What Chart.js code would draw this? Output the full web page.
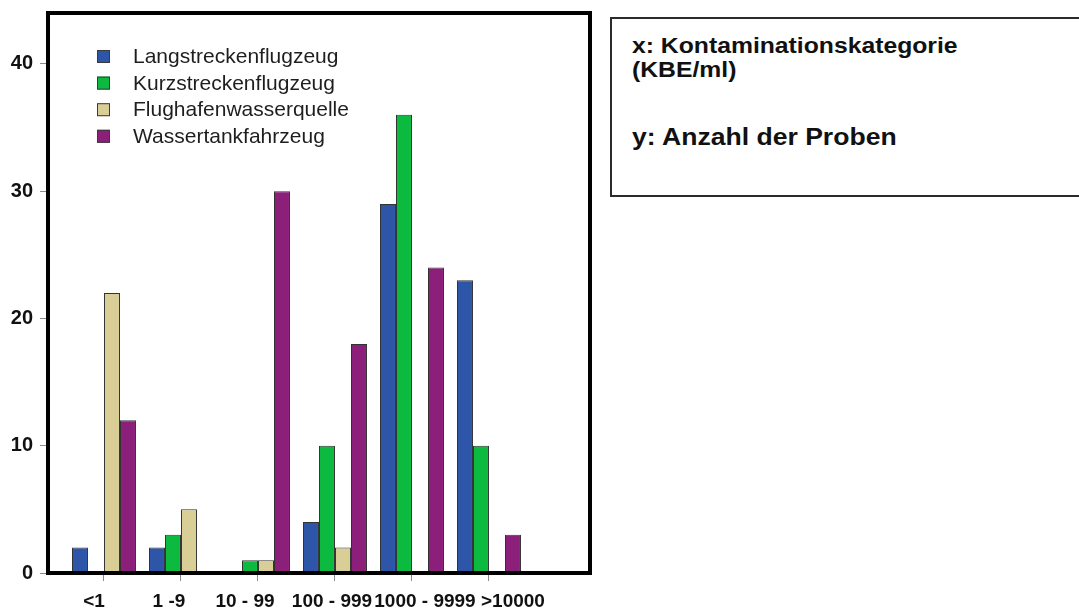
<!DOCTYPE html>
<html lang="de">
<head>
<meta charset="utf-8">
<title>Kontamination nach Probenquelle</title>
<script src="https://cdn.jsdelivr.net/npm/chart.js@4.4.1/dist/chart.umd.min.js"></script>
<style>
  html, body { margin: 0; padding: 0; background: #fff; }
  body { width: 1079px; height: 610px; position: relative; overflow: hidden;
         font-family: "Liberation Sans", Arial, sans-serif; }
  #chartBox { position: absolute; left: 0; top: 0; width: 600px; height: 610px; }
  #axisNote { position: absolute; left: 610px; top: 17px; width: 520px; height: 180px;
              border: 2px solid #2b2b2b; box-sizing: border-box; background: #fff; }
  #axisNote p { position: absolute; left: 20px; margin: 0; font-weight: bold; color: #111;
                white-space: nowrap; transform-origin: 0 0; }
  #axisNote .xnote { top: 16px; font-size: 21.5px; line-height: 23.5px; transform: scaleX(1.15); }
  #axisNote .ynote { top: 105px; font-size: 23.3px; line-height: 26px; transform: scaleX(1.14); }
</style>
</head>
<body>
<div id="chartBox"><canvas id="chart" width="600" height="610"></canvas></div>
<div id="axisNote">
  <p class="xnote">x: Kontaminationskategorie<br>(KBE/ml)</p>
  <p class="ynote">y: Anzahl der Proben</p>
</div>

<script>
// Kontaminationskategorien (KBE/ml) on the x axis
const categories = ['<1', '1 -9', '10 - 99', '100 - 999', '1000 - 9999', '>10000'];

// Sample sources (series names)
const seriesNames = ['Langstreckenflugzeug', 'Kurzstreckenflugzeug', 'Flughafenwasserquelle', 'Wassertankfahrzeug'];

// Number of samples per category, one array per source
const langstrecke  = [2, 2, 0, 4, 29, 23];
const kurzstrecke  = [0, 3, 1, 10, 36, 10];
const wasserquelle = [22, 5, 1, 2, 0, 0];
const tankfahrzeug = [12, 0, 30, 18, 24, 3];

// y axis tick values
const yTicks = [0, 10, 20, 30, 40];

const seriesValues = [langstrecke, kurzstrecke, wasserquelle, tankfahrzeug];
const seriesColors = ['#2d55a8', '#0cba40', '#d8ce96', '#8c1f7a'];

Chart.defaults.font.family = "'Liberation Sans', Arial, sans-serif";

// white page behind the chart and the thick black frame around the plot
const framePlugin = {
  id: 'plotFrame',
  beforeDraw(chart) {
    const c = chart.ctx;
    c.save();
    c.fillStyle = '#fff';
    c.fillRect(0, 0, chart.width, chart.height);
    c.restore();
  },
  afterDatasetsDraw(chart) {
    const { left, top, right, bottom } = chart.chartArea;
    const c = chart.ctx;
    c.save();
    c.strokeStyle = '#000';
    c.lineWidth = 4;
    c.strokeRect(left, top, right - left, bottom - top);
    c.restore();
  }
};

// legend drawn inside the plot, top left
const innerLegend = {
  id: 'innerLegend',
  afterDraw(chart, args, opts) {
    const c = chart.ctx;
    const { left, top } = chart.chartArea;
    c.save();
    c.font = '21px "Liberation Sans", Arial, sans-serif';
    c.textBaseline = 'alphabetic';
    c.textAlign = 'left';
    chart.data.datasets.forEach((ds, k) => {
      const y = top + opts.offsetY + k * opts.rowHeight;
      const bx = left + opts.offsetX;
      c.fillStyle = ds.backgroundColor;
      c.fillRect(bx, y, opts.box, opts.box);
      c.strokeStyle = '#3a3a3a';
      c.lineWidth = 1;
      c.strokeRect(bx + 0.5, y + 0.5, opts.box - 1, opts.box - 1);
      c.fillStyle = '#1e1e1e';
      c.fillText(ds.label, bx + opts.textGap, y + opts.box);
    });
    c.restore();
  }
};

// category names under the x axis, placed from the scale's tick positions
const categoryLabels = {
  id: 'categoryLabels',
  afterDraw(chart, args, opts) {
    const xs = chart.scales.x;
    const c = chart.ctx;
    c.save();
    c.font = 'bold 19px "Liberation Sans", Arial, sans-serif';
    c.fillStyle = '#111';
    c.textAlign = 'center';
    c.textBaseline = 'alphabetic';
    chart.data.labels.forEach((lab, i) => {
      c.fillText(lab, xs.getPixelForValue(i) + (opts.nudge[i] || 0), opts.baseline);
    });
    c.restore();
  }
};

const datasets = seriesNames.map((name, k) => ({
  label: name,
  data: seriesValues[k].map((v, i) => ({ x: i, y: v })),
  backgroundColor: seriesColors[k],
  borderColor: '#333',
  borderWidth: ctx => (ctx.raw && ctx.raw.y ? 1 : 0),
  borderSkipped: 'bottom',
  categoryPercentage: 64 / 77,
  barPercentage: 1
}));

new Chart(document.getElementById('chart'), {
  type: 'bar',
  data: { labels: categories, datasets },
  options: {
    responsive: false,
    animation: false,
    layout: { padding: { top: 13, right: 10, left: 0, bottom: 0 } },
    scales: {
      x: {
        type: 'linear',
        min: -0.727,
        max: 6.312,
        offset: false,
        afterBuildTicks: s => { s.ticks = categories.map((c, i) => ({ value: i })); },
        afterFit: s => { s.height = 37; s.paddingLeft = 0; s.paddingRight = 0; },
        ticks: { display: false },
        grid: { drawOnChartArea: false, drawTicks: true, tickLength: 8, tickColor: '#8a8a8a', offset: false },
        border: { display: false }
      },
      y: {
        min: 0,
        max: 44,
        afterBuildTicks: s => { s.ticks = yTicks.map(v => ({ value: v })); },
        afterFit: s => { s.width = 48; s.paddingTop = 0; s.paddingBottom = 0; },
        ticks: { font: { size: 20, weight: 'bold' }, color: '#111', padding: 7 },
        grid: { drawOnChartArea: false, drawTicks: true, tickLength: 8, tickColor: '#8a8a8a' },
        border: { display: false }
      }
    },
    plugins: {
      legend: { display: false },
      tooltip: { enabled: false },
      innerLegend: { offsetX: 49, offsetY: 37, rowHeight: 26.6, box: 13, textGap: 36 },
      categoryLabels: { nudge: [-10, -12, -13, -3, 13, 24], baseline: 607 }
    }
  },
  plugins: [framePlugin, innerLegend, categoryLabels]
});
</script>
</body>
</html>
